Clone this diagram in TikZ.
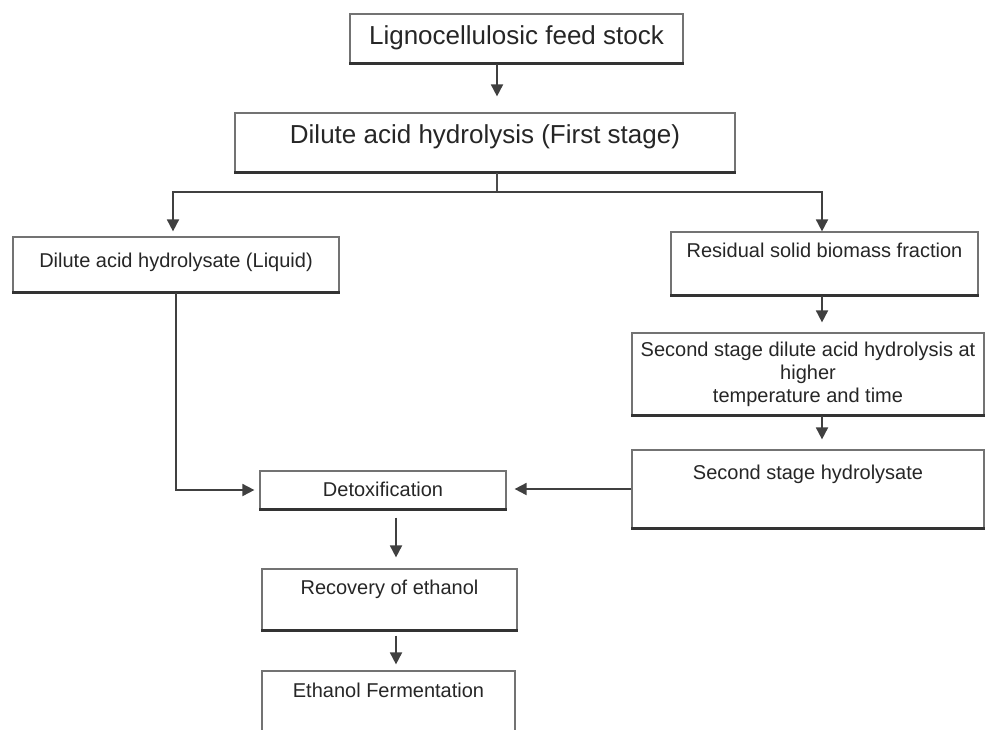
\documentclass[tikz,border=0pt]{standalone}
\usepackage{fontspec}
\setmainfont{Liberation Sans}
\usepackage{tikz}
\usetikzlibrary{arrows.meta}

\begin{document}
\begin{tikzpicture}
		[x=1pt,y=-1pt,
		stage/.style={rectangle,draw=black!55,line width=1.2pt,inner sep=0pt,
align=center,text=black!85,font=\fontsize{20}{23}\selectfont},
		bigstage/.style={stage,font=\fontsize{26}{30}\selectfont},
		flow/.style={draw=black!75,line width=1.8pt,-{Triangle[length=12pt,width=12pt]}},
		link/.style={draw=black!70,line width=1.8pt},
		base/.style={draw=black!80,line width=2.6pt}]
		\path[use as bounding box,clip] (0,0) rectangle (985,729);
		\node at (516.5,38.5) (feed) [bigstage,minimum width=333pt,text height=30pt,text depth=19pt] {Lignocellulosic feed stock};
		\node at (485,142.5) (first) [bigstage,minimum width=500pt,text height=30pt,text depth=29pt] {Dilute acid hydrolysis (First stage)};
		\node at (176,264.5) (liquid) [stage,minimum width=326pt,text height=30pt,text depth=25pt] {Dilute acid hydrolysate (Liquid)};
		\node at (824.5,263.5) (residual) [stage,minimum width=307pt,text height=25pt,text depth=38pt] {Residual solid biomass fraction};
		\node at (808,374) (second) [stage,minimum width=352pt,minimum height=82pt] {Second stage dilute acid hydrolysis at\\higher\\temperature and time};
		\node at (808,489) (hydro) [stage,minimum width=352pt,text height=29pt,text depth=49pt] {Second stage hydrolysate};
		\node at (383,490) (detox) [stage,minimum width=246pt,text height=25pt,text depth=13pt] {Detoxification};
		\node at (389.5,599.5) (recovery) [stage,minimum width=255pt,text height=25pt,text depth=36pt] {Recovery of ethanol};
		\node at (388.5,715.5) (ferment) [stage,minimum width=253pt,text height=26pt,text depth=63pt] {Ethanol Fermentation};
		\foreach \n in {feed,first,liquid,residual,second,hydro,detox,recovery,ferment}
			\draw[base] (\n.south west) -- (\n.south east);
		% split after the first stage
		\coordinate (split) at (497,192);
		\coordinate (splitL) at (173,192);
		\coordinate (splitR) at (822,192);
		\coordinate (down) at (396,0);
		\draw[flow,shorten >=16pt] (feed.south -| split) -- (first.north -| split);
		\draw[link] (first.south -| split) -- (split);
		\draw[flow,shorten >=5pt] (split) -| (liquid.north -| splitL);
		\draw[flow] (split) -| (residual.north -| splitR);
		\draw[flow,shorten >=10pt] (residual.south -| splitR) -- (second.north -| splitR);
		\draw[flow,shorten >=10pt] (second.south -| splitR) -- (hydro.north -| splitR);
		\draw[flow,shorten >=5pt] (liquid.south) |- (detox.west);
		\draw[flow,shorten >=8pt] (hydro.west) -- (detox.east |- hydro.west);
		\draw[flow,shorten <=8pt,shorten >=11pt] (detox.south -| down) -- (recovery.north -| down);
		\draw[flow,shorten <=5pt,shorten >=6pt] (recovery.south -| down) -- (ferment.north -| down);
	\end{tikzpicture}
\end{document}
